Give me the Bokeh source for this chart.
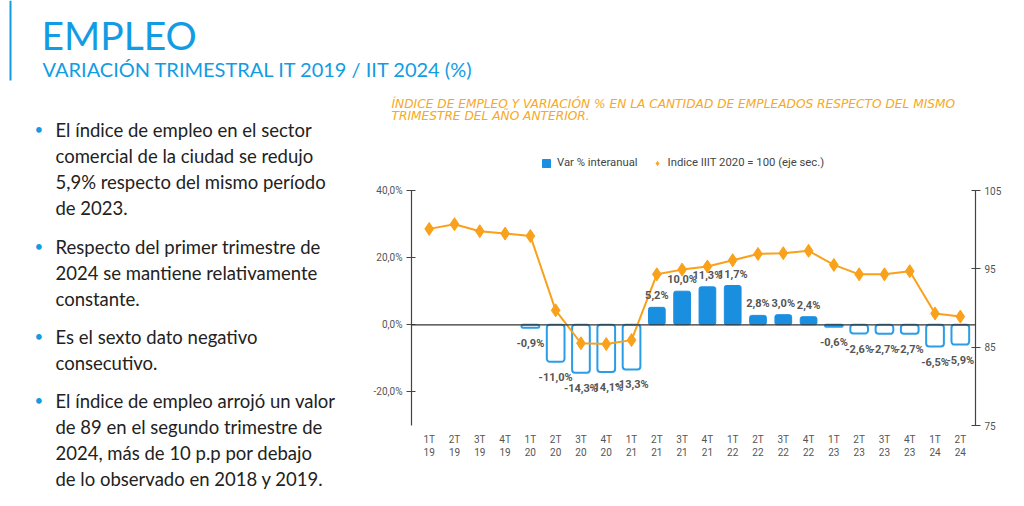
from bokeh.plotting import figure
from bokeh.layouts import column, row
from bokeh.models import (Range1d, LinearAxis, FixedTicker, Span, Legend,
                          LegendItem, ColumnDataSource, BoxAnnotation)
from bokeh.embed import file_html
from bokeh.resources import INLINE
from bokeh.core.properties import value

# ---------------- data ----------------
quarters = ["1T", "2T", "3T", "4T"] * 5 + ["1T", "2T"]
years = ["19"] * 4 + ["20"] * 4 + ["21"] * 4 + ["22"] * 4 + ["23"] * 4 + ["24"] * 2
var_pct = [None, None, None, None, -0.9, -11.0, -14.3, -14.1, -13.3, 5.2, 10.0, 11.3,
           11.7, 2.8, 3.0, 2.4, -0.6, -2.6, -2.7, -2.7, -6.5, -5.9]
indice = [100.1, 100.7, 99.8, 99.5, 99.2, 89.7, 85.5, 85.4, 85.9, 94.3, 94.9, 95.3,
          96.1, 96.9, 97.0, 97.3, 95.5, 94.3, 94.3, 94.7, 89.3, 88.9]
left_ticks = [-20, 0, 20, 40]
right_ticks = [75, 85, 95, 105]

title = "EMPLEO"
subtitle = "VARIACIÓN TRIMESTRAL IT 2019 / IIT 2024 (%)"
chart_title = ["ÍNDICE DE EMPLEO Y VARIACIÓN % EN LA CANTIDAD DE EMPLEADOS RESPECTO DEL MISMO",
               "TRIMESTRE DEL AÑO ANTERIOR."]
bullets = [
    ["El índice de empleo en el sector", "comercial de la ciudad se redujo",
     "5,9% respecto del mismo período", "de 2023."],
    ["Respecto del primer trimestre de", "2024 se mantiene relativamente",
     "constante."],
    ["Es el sexto dato negativo", "consecutivo."],
    ["El índice de empleo arrojó un valor", "de 89 en el segundo trimestre de",
     "2024, más de 10 p.p por debajo", "de lo observado en 2018 y 2019."],
]

BLUE = "#1a8fe0"
BLUE_LINE = "#2a9de6"
ORANGE = "#f9a11b"
TITLE_ORANGE = "#f7a823"
TITLE_BLUE = "#129ce3"
GRAY = "#555555"
TEXT = "#222222"

TOTAL_W, TOTAL_H = 1016, 498
HEADER_H = 92
LEFT_W = 370
CTITLE_H = 32


def fmt(v):
    return f"{v:.1f}%".replace(".", ",")


def blank_fig(w, h, x0, y0):
    f = figure(width=w, height=h, output_backend="svg", toolbar_location=None,
               x_range=Range1d(x0, x0 + w), y_range=Range1d(y0 + h, y0),
               x_axis_type=None, y_axis_type=None, min_border=0)
    f.outline_line_color = None
    f.grid.visible = False
    return f


# ---------------- header ----------------
hdr = blank_fig(TOTAL_W, HEADER_H, 0, 0)
hdr.add_layout(BoxAnnotation(left=9, right=11, top=0, bottom=80, fill_color=TITLE_BLUE,
                             fill_alpha=1, line_color=None))
hdr.text(x=[41], y=[34], text=[title], text_font=value("Lato"), text_font_size="39px",
         text_color=TITLE_BLUE, text_baseline="middle")
hdr.text(x=[42], y=[68], text=[subtitle], text_font=value("Lato"), text_font_size="20px",
         text_color=TITLE_BLUE, text_baseline="middle")

# ---------------- bullets ----------------
bl = blank_fig(LEFT_W, TOTAL_H - HEADER_H, 0, HEADER_H)
bullet_y = [[129, 155, 181, 207], [246, 272, 298], [336, 362], [400, 426, 452, 478]]
for lines, ys in zip(bullets, bullet_y):
    bl.text(x=[34], y=[ys[0] - 1], text=["•"], text_font=value("Lato"),
            text_font_size="15px", text_color=TITLE_BLUE, text_baseline="middle")
    bl.text(x=[55] * len(lines), y=ys, text=lines, text_font=value("Lato"),
            text_font_size="18.5px", text_color=TEXT, text_baseline="middle")

# ---------------- chart title ----------------
CW = TOTAL_W - LEFT_W
tf = blank_fig(CW, CTITLE_H, LEFT_W, HEADER_H)
tf.text(x=[391, 391], y=[103, 115], text=chart_title, text_font=value("DejaVu Sans"),
        text_font_size="12.2px", text_font_style="italic", text_color=TITLE_ORANGE,
        text_baseline="middle")

# ---------------- chart ----------------
xs = list(range(len(quarters)))
pos = ColumnDataSource(dict(x=[i for i, v in zip(xs, var_pct) if v is not None and v >= 0],
                            top=[v for v in var_pct if v is not None and v >= 0]))
neg = ColumnDataSource(dict(x=[i for i, v in zip(xs, var_pct) if v is not None and v < 0],
                            top=[v for v in var_pct if v is not None and v < 0]))
pos.data["lab"] = [fmt(v) for v in pos.data["top"]]
neg.data["lab"] = [fmt(v) for v in neg.data["top"]]
idx = ColumnDataSource(dict(x=xs, y=indice))

CH = TOTAL_H - HEADER_H - CTITLE_H
FTOP = HEADER_H + CTITLE_H
# frame spans page y FTOP..425; -30..40 occupies 190..425
px_per_pct = 235 / 70.0
y_top = 40 + (190 - FTOP) / px_per_pct
px_per_idx = 235 / 30.0
idx_top = 105 + (190 - FTOP) / px_per_idx

p = figure(width=CW, height=CH, output_backend="svg", toolbar_location=None,
           x_range=Range1d(-0.7, 21.6), y_range=Range1d(-30, y_top),
           min_border_left=40, min_border_right=41, min_border_top=0,
           min_border_bottom=73)
p.extra_y_ranges = {"idx": Range1d(75, idx_top)}
p.outline_line_color = None
p.grid.visible = False

# x axis
p.xaxis.ticker = FixedTicker(ticks=xs)
p.xaxis.major_label_overrides = {i: f"{q}\n{y}" for i, q, y in zip(xs, quarters, years)}
p.xaxis.axis_line_color = None
p.xaxis.major_tick_line_color = None
p.xaxis.minor_tick_line_color = None
p.xaxis.major_label_text_font = "Roboto"
p.xaxis.major_label_text_font_size = "10px"
p.xaxis.major_label_text_color = GRAY
p.xaxis.major_label_standoff = 2

# left axis
p.yaxis.ticker = FixedTicker(ticks=left_ticks)
p.yaxis.bounds = (-30, 40)
p.yaxis.major_label_overrides = {t: fmt(t) for t in left_ticks}
p.yaxis.axis_line_color = "#444444"
p.yaxis.axis_line_width = 1.2
p.yaxis.major_tick_line_color = "#444444"
p.yaxis.major_tick_in = 4
p.yaxis.major_tick_out = 5
p.yaxis.minor_tick_line_color = None
p.yaxis.major_label_text_font = "Roboto"
p.yaxis.major_label_text_font_size = "10px"
p.yaxis.major_label_text_color = GRAY
p.yaxis.major_label_standoff = 4

# right axis
ra = LinearAxis(y_range_name="idx", ticker=FixedTicker(ticks=right_ticks), bounds=(75, 105))
ra.axis_line_color = "#444444"
ra.axis_line_width = 1.2
ra.major_tick_line_color = "#444444"
ra.major_tick_in = 4
ra.major_tick_out = 5
ra.minor_tick_line_color = None
ra.major_label_text_font = "Roboto"
ra.major_label_text_font_size = "10px"
ra.major_label_text_color = GRAY
ra.major_label_standoff = 4
p.add_layout(ra, "right")

# zero line
p.add_layout(Span(location=0, dimension="width", line_color="#333333", line_width=1.3))

# bars
pos_r = p.vbar(x="x", top="top", bottom=0, width=0.66, source=pos, fill_color=BLUE,
               line_color=BLUE, line_width=1, border_radius=2)
neg_r = p.vbar(x="x", top=0, bottom="top", width=0.7, source=neg, fill_color="white",
               line_color=BLUE_LINE, line_width=2, border_radius=3)

# index line
p.line(x="x", y="y", source=idx, y_range_name="idx", line_color=ORANGE, line_width=2)
idx_r = p.scatter(x="x", y="y", source=idx, y_range_name="idx", marker="diamond",
                  size=13, fill_color=ORANGE, line_color=ORANGE)

# data labels
p.text(x="x", y="top", text="lab", source=pos, text_align="center", text_baseline="bottom",
       y_offset=-5, text_font=value("Roboto"), text_font_style="bold",
       text_font_size="11px", text_color=GRAY)
p.text(x="x", y="top", text="lab", source=neg, text_align="center", text_baseline="top",
       y_offset=9, text_font=value("Roboto"), text_font_style="bold",
       text_font_size="11px", text_color=GRAY)

# legend
legend = Legend(items=[LegendItem(label="Var % interanual", renderers=[pos_r]),
                       LegendItem(label="Indice IIIT 2020 = 100 (eje sec.)", renderers=[idx_r])],
                orientation="horizontal", location=(130, 425 - 169), border_line_color=None,
                background_fill_alpha=0, label_text_font="Roboto",
                label_text_font_size="11.3px", label_text_color="#444444",
                glyph_width=10, glyph_height=10, spacing=14, padding=0, margin=0,
                label_standoff=6)
p.add_layout(legend)

layout = column(hdr, row(column(bl), column(column(tf), p)))
open("out.html", "w").write(file_html(layout, INLINE))
